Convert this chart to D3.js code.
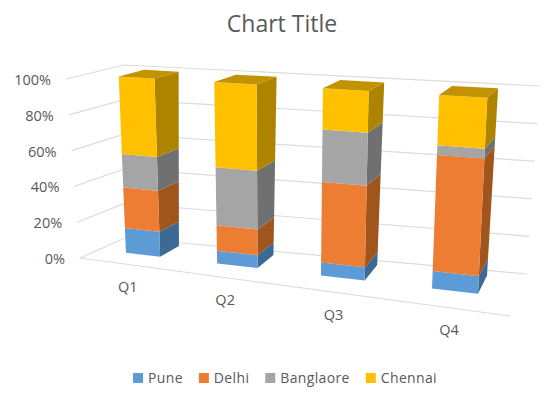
<!DOCTYPE html>
<html>
<head>
<meta charset="utf-8">
<script src="https://cdn.jsdelivr.net/npm/d3@7"></script>
<style>
  html, body { margin: 0; padding: 0; background: #fff; }
  svg { display: block; }
  text { font-family: "Open Sans", sans-serif; fill: #595959; }
</style>
</head>
<body>
<div id="chart"></div>
<script>
// Data (percent of each quarter)
const quarters = ["Q1", "Q2", "Q3", "Q4"];
const seriesNames = ["Pune", "Delhi", "Banglaore", "Chennai"];
const pune = [14, 7, 7, 9];
const delhi = [23, 14, 43, 60];
const banglaore = [19, 32, 28, 5];
const chennai = [44, 47, 22, 26];
const tickValues = [0, 0.2, 0.4, 0.6, 0.8, 1];

const frontColors = ["#5b9bd5", "#ed7d31", "#a5a5a5", "#ffc000"];
const sideColors = ["#3c6a94", "#a0541f", "#6f6f6f", "#ad8300"];
const topColor = "#c29200";

const fullWidth = 549, fullHeight = 396;

const svg = d3.select("#chart").append("svg")
    .attr("width", fullWidth).attr("height", fullHeight);

svg.append("defs").append("filter").attr("id", "soft")
    .append("feGaussianBlur").attr("stdDeviation", 0.4);

// Corners of the 3D box, as seen on screen
const box = {
    flb: [80, 258], frb: [510, 316], blb: [125, 238], brb: [527, 274],
    flt: [66, 79], frt: [520, 107], blt: [124, 65], brt: [540, 86]
};

// u: along the categories, v: value, w: depth
function project(u, v, w) {
    const mix = (a, b, t) => a + (b - a) * t;
    return [0, 1].map(i => {
        const bottom = mix(mix(box.flb[i], box.frb[i], u), mix(box.blb[i], box.brb[i], u), w);
        const top = mix(mix(box.flt[i], box.frt[i], u), mix(box.blt[i], box.brt[i], u), w);
        return mix(bottom, top, v);
    });
}

const band = d3.scaleBand().domain(quarters).range([0, 1])
    .paddingInner(0.6).paddingOuter(0.3);
// bars get wider towards the viewer on the right
const persp = d3.scalePow().exponent(1.15).domain([0, 1]).range([0.015, 0.99]);
const y = d3.scaleLinear().domain([0, 1]).range([0, 1]);
// the bars stop just under the 100% line
const barY = d3.scaleLinear().domain([0, 1]).range([0, 0.99]);
const depth = d3.scaleLinear().domain([0, 1]).range([0.42, 0.88]);

const rows = quarters.map((q, i) => ({
    q, Pune: pune[i], Delhi: delhi[i], Banglaore: banglaore[i], Chennai: chennai[i]
}));
const stacked = d3.stack().keys(seriesNames).offset(d3.stackOffsetExpand)(rows);

const poly = d3.line();

// Grid lines on both walls, plus the front edge of the floor
const grid = svg.append("g").attr("stroke", "#dcdcdc").attr("stroke-width", 1.2)
    .attr("fill", "none").attr("filter", "url(#soft)");
tickValues.forEach(t => {
    grid.append("path").attr("d", poly([project(0, y(t), 0), project(0, y(t), 1), project(1, y(t), 1)]));
});
grid.append("path").attr("d", poly([project(0, 0, 0), project(1, 0, 0)]));

// Tick labels
svg.append("g").selectAll("text").data(tickValues).join("text")
    .attr("x", d => project(0, y(d), 0)[0] - 15)
    .attr("y", d => project(0, y(d), 0)[1] + 1)
    .attr("dy", "0.35em")
    .attr("text-anchor", "end")
    .style("font-size", "14.5px")
    .text(d => d3.format(".0%")(d));

// Bars
const bars = svg.append("g").attr("filter", "url(#soft)");
quarters.forEach((q, qi) => {
    const u0 = persp(band(q)), u1 = persp(band(q) + band.bandwidth());
    const w0 = depth(0), w1 = depth(1);
    stacked.forEach((s, si) => {
        const v0 = barY(s[qi][0]), v1 = barY(s[qi][1]);
        bars.append("path").attr("fill", sideColors[si])
            .attr("d", poly([project(u1, v0, w0), project(u1, v0, w1), project(u1, v1, w1), project(u1, v1, w0)]) + "Z");
        bars.append("path").attr("fill", frontColors[si])
            .attr("d", poly([project(u0, v0, w0), project(u1, v0, w0), project(u1, v1, w0), project(u0, v1, w0)]) + "Z");
    });
    const vTop = barY(1);
    bars.append("path").attr("fill", topColor)
        .attr("d", poly([project(u0, vTop, w0), project(u1, vTop, w0), project(u1, vTop, w1), project(u0, vTop, w1)]) + "Z");
});

// Category labels
svg.append("g").selectAll("text").data(quarters).join("text")
    .attr("x", d => project(persp(band(d) + band.bandwidth() / 2), 0, 0)[0] + 3)
    .attr("y", d => project(persp(band(d) + band.bandwidth() / 2), 0, 0)[1] + 23)
    .attr("dy", "0.35em")
    .attr("text-anchor", "middle")
    .style("font-size", "14.5px")
    .text(d => d);

// Title
svg.append("text").attr("x", 282).attr("y", 24).attr("dy", "0.35em")
    .attr("text-anchor", "middle")
    .style("font-size", "23px")
    .text("Chart Title");

// Legend, laid out left to right from the text widths
let legendX = 133;
const legend = svg.append("g");
seriesNames.forEach((name, i) => {
    legend.append("rect").attr("x", legendX).attr("y", 373)
        .attr("width", 10).attr("height", 10).attr("fill", frontColors[i]);
    const label = legend.append("text").attr("x", legendX + 15).attr("y", 378)
        .attr("dy", "0.35em")
        .style("font-size", "14px").style("letter-spacing", "0.35px")
        .text(name);
    legendX += 15 + label.node().getComputedTextLength() + 16;
});
</script>
</body>
</html>
